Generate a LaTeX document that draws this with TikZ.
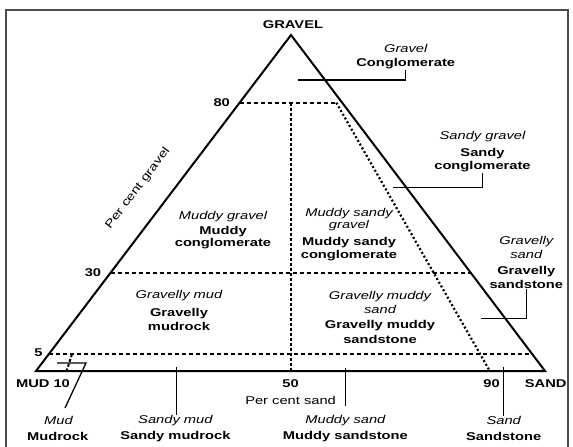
\documentclass[tikz,border=0pt]{standalone}
\usepackage{fontspec}
\setmainfont[FakeStretch=1.3]{Liberation Sans}
\begin{document}
\begin{tikzpicture}[x=1pt,y=-1pt,
  base/.style={inner sep=0.5pt, font=\fontsize{11.3}{12}\selectfont},
  it/.style={base, font=\fontsize{11.3}{12}\selectfont\itshape},
  bd/.style={base, font=\fontsize{11.3}{12}\selectfont\bfseries},
  edge/.style={line width=2pt, line join=miter},
  dash80/.style={line width=2pt, dash pattern=on 4.5pt off 2.5pt},
  vdash/.style={line width=2pt, dash pattern=on 3pt off 2pt},
  dots/.style={line width=2.2pt, dash pattern=on 2pt off 2.3pt},
  lead/.style={line width=1.3pt},
  frame/.style={line width=1.8pt, draw=black!70}]
\useasboundingbox (0,0) rectangle (573,447);
% frame
\coordinate (fa) at (6,447); \coordinate (fb) at (6,10);
\coordinate (fc) at (568,10); \coordinate (fd) at (568,447);
\draw[frame] (fa) -- (fb) -- (fc) -- (fd);
% triangle
\coordinate (G) at (291,35); \coordinate (M) at (36,371); \coordinate (S) at (545,371);
\draw[edge] (M) -- (G) -- (S) -- cycle;
% dividing lines
\coordinate (a80) at (239.6,102.7); \coordinate (d80) at (336.3,102.7);
\coordinate (v80) at (290.6,102.7); \coordinate (v0) at (290.6,371);
\coordinate (d0) at (489.8,371);
\coordinate (l30) at (110.6,272.7); \coordinate (r30) at (470.7,272.7);
\coordinate (l5) at (48.7,354.3); \coordinate (r5) at (532.3,354.3);
\coordinate (t5) at (72,354.3); \coordinate (t0) at (66.5,371);
\draw[dash80] (a80) -- (d80);
\draw[vdash] (v80) -- (v0);
\draw[dots] (d80) -- (d0);
\draw[dash80] (l30) -- (r30);
\draw[dash80] (l5) -- (r5);
\draw[vdash] (t5) -- (t0);
% corner and axis labels
\node[bd] (gravel) at (293,25) {GRAVEL};
\node[bd] (mud) at (43,384) {MUD 10};
\node[bd] (n50) at (290.6,383.3) {50};
\node[bd] (n90) at (491.6,383.3) {90};
\node[bd] (sand) at (545.7,383.3) {SAND};
\node[bd] (n80) at (221.7,102.7) {80};
\node[bd] (n30) at (93,272.7) {30};
\node[bd] (n5) at (38.4,353) {5};
\node[base] (pcs) at (290.6,400.7) {Per cent sand};
\node[base, rotate=52.8] (pcg) at (137.8,188.3) {Per cent gravel};
% Gravel
\node[it] (g1) at (405.7,48.3) {Gravel};
\node[bd] (g2) at (405.7,64) {Conglomerate};
\coordinate (gl) at (297.9,80);
\draw[lead] (gl) -| (g2);
% Sandy gravel
\node[it] (sg1) at (482.5,136.7) {Sandy gravel};
\node[bd] (sg2) at (482.5,154) {Sandy};
\node[bd] (sg3) at (482.5,166.7) {conglomerate};
\coordinate (sgl) at (392.9,187.7);
\draw[lead] (sgl) -| (sg3);
% Muddy gravel
\node[it] (mg1) at (223,216.7) {Muddy gravel};
\node[bd] (mg2) at (223,231.7) {Muddy};
\node[bd] (mg3) at (223,244) {conglomerate};
% Muddy sandy gravel
\node[it] (msg1) at (349,213.3) {Muddy sandy};
\node[it] (msg2) at (349,226) {gravel};
\node[bd] (msg3) at (349,242.3) {Muddy sandy};
\node[bd] (msg4) at (349,255.7) {conglomerate};
% Gravelly sand
\node[it] (gs1) at (526.3,241.7) {Gravelly};
\node[it] (gs2) at (526.3,254.3) {sand};
\node[bd] (gs3) at (526.3,271.7) {Gravelly};
\node[bd] (gs4) at (526.3,284) {sandstone};
\coordinate (gsl) at (480.6,318.3);
\draw[lead] (gsl) -| (gs4);
% Gravelly mud
\node[it] (gm1) at (179,296) {Gravelly mud};
\node[bd] (gm2) at (179,313.3) {Gravelly};
\node[bd] (gm3) at (179,326) {mudrock};
% Gravelly muddy sand
\node[it] (gms1) at (380,296.7) {Gravelly muddy};
\node[it] (gms2) at (380,309.3) {sand};
\node[bd] (gms3) at (380,325.7) {Gravelly muddy};
\node[bd] (gms4) at (380,339.3) {sandstone};
% bottom labels
\node[it] (md1) at (58.5,420.7) {Mud};
\node[bd] (md2) at (57.7,436.7) {Mudrock};
\coordinate (mb1) at (57,363); \coordinate (mb2) at (86,363); \coordinate (mbl) at (65,408);
\draw[lead] (mb1) -- (mb2) -- (mbl);
\node[it] (sm1) at (175.4,420.7) {Sandy mud};
\node[bd] (sm2) at (175.4,436.7) {Sandy mudrock};
\coordinate (smt) at (176.5,366.7);
\draw[lead] (smt) -- (smt |- sm1.north);
\node[it] (ms1) at (345.4,420.7) {Muddy sand};
\node[bd] (ms2) at (345.4,436.7) {Muddy sandstone};
\coordinate (mst) at (345.4,368.3); \coordinate (msb) at (345.4,406);
\draw[lead] (mst) -- (msb);
\node[it] (sd1) at (503.7,420.7) {Sand};
\node[bd] (sd2) at (503.7,436.7) {Sandstone};
\coordinate (sdt) at (503.7,366.7);
\draw[lead] (sdt) -- (sdt |- sd1.north);
\end{tikzpicture}
\end{document}
